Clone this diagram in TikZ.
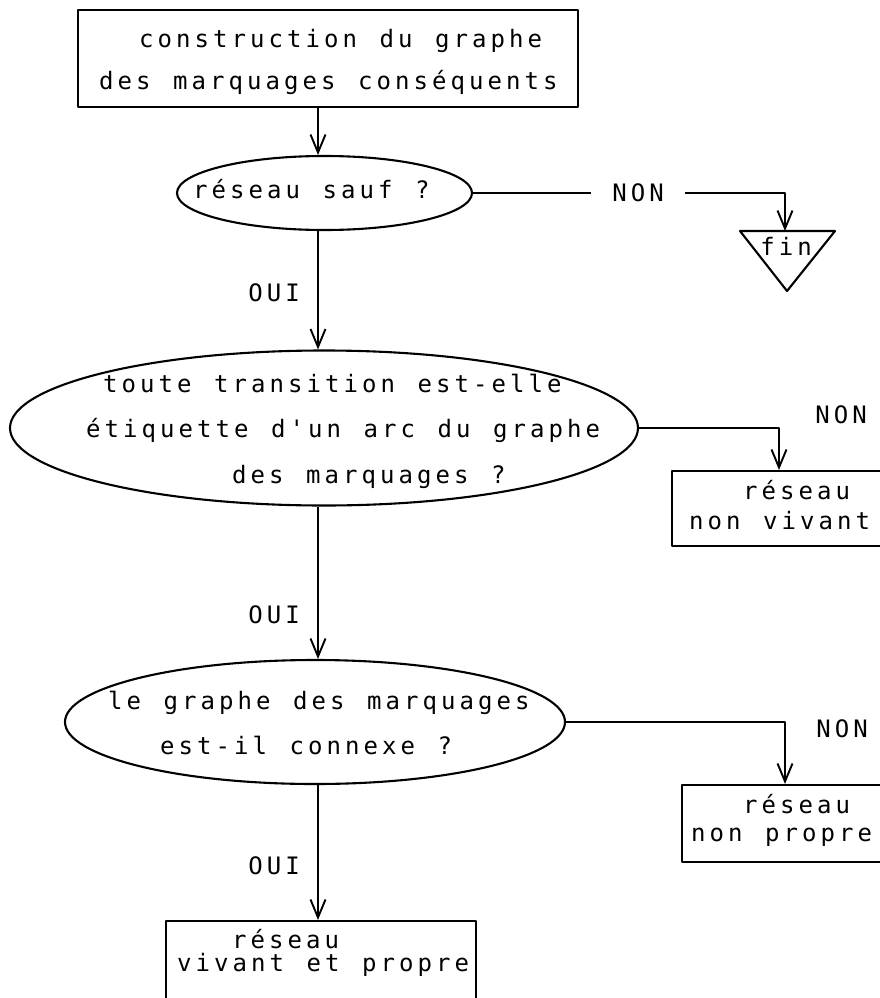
\documentclass[tikz,border=0pt]{standalone}
\usepackage{fontspec}
\newfontfamily\tw{DejaVu Sans Mono}
\usetikzlibrary{arrows.meta,shapes.geometric}
\newlength\monopitch
\setlength\monopitch{18.5pt}
\ExplSyntaxOn
\NewDocumentCommand\mono{m}{\str_map_inline:nn{#1}{\makebox[\monopitch][c]{##1}}}
\ExplSyntaxOff
\begin{document}
\begin{tikzpicture}[x=1pt,y=-1pt,line width=2.1pt,line join=round,
  box/.style={draw,rectangle,inner sep=0pt},
  ell/.style={draw,ellipse,inner sep=0pt},
  txt/.style={anchor=base west,inner sep=0pt,font=\tw\fontsize{24}{24}\selectfont},
  lbl/.style={inner sep=0pt,font=\tw\fontsize{24}{24}\selectfont},
  arr/.style={-{Straight Barb[length=18pt,width=15pt,line width=1.9pt]}}]
\useasboundingbox (0,0) rectangle (879,998);
\coordinate (spine) at (318,0);
% shapes
\node[box,minimum width=500pt,minimum height=97pt] (b1) at (328,58.5) {};
\node[ell,minimum width=295pt,minimum height=74pt] (e1) at (324.5,193) {};
\node[ell,minimum width=628pt,minimum height=155pt] (e2) at (324,428) {};
\node[box,minimum width=214pt,minimum height=75pt] (nv) at (779,508.5) {};
\node[ell,minimum width=500pt,minimum height=124pt] (e3) at (315,722) {};
\node[box,minimum width=206pt,minimum height=77pt] (np) at (785,823.5) {};
\node[box,minimum width=310pt,minimum height=91pt] (bb) at (321,966.5) {};
\coordinate (fintop) at (785,231);
\draw (740,231) -- (835,231) -- (787,291) -- cycle;
% texts
\node[txt] (t1) at (136,48) {\mono{construction du graphe}};
\node[txt] (t2) at (96,89) {\mono{des marquages conséquents}};
\node[txt] (t3) at (190,198) {\mono{réseau sauf ?}};
\node[lbl,anchor=base] (fin) at (786,255) {\mono{fin}};
\node[txt] (t4) at (100,392) {\mono{toute transition est-elle}};
\node[txt] (t5) at (83,437) {\mono{étiquette d'un arc du graphe}};
\node[txt] (t6) at (229,483) {\mono{des marquages ?}};
\node[txt] (t7) at (740,499) {\mono{réseau}};
\node[txt] (t8) at (686,529) {\mono{non vivant}};
\node[txt] (t9) at (105,709) {\mono{le graphe des marquages}};
\node[txt] (t10) at (157,754) {\mono{est-il connexe ?}};
\node[txt] (t11) at (740,813) {\mono{réseau}};
\node[txt] (t12) at (688,841) {\mono{non propre}};
\node[txt] (t13) at (229,948) {\mono{réseau}};
\node[txt] (t14) at (174,971) {\mono{vivant et propre}};
% labels
\node[lbl,inner xsep=18pt] (non1) at (638,193) {\mono{NON}};
\node[lbl] (non2) at (841,415) {\mono{NON}};
\node[lbl] (non3) at (842,729) {\mono{NON}};
\node[lbl] (oui1) at (274,293) {\mono{OUI}};
\node[lbl] (oui2) at (274,615) {\mono{OUI}};
\node[lbl] (oui3) at (274,866) {\mono{OUI}};
% connectors
\draw[arr] (b1.south -| spine) -- (e1.north -| spine);
\draw (e1.east) -- (non1.west);
\draw[arr] (non1.east) -| (fintop);
\draw[arr] (e1.south -| spine) -- (e2.north -| spine);
\draw[arr] (e2.east) -| (nv.north);
\draw[arr] (e2.south -| spine) -- (e3.north -| spine);
\draw[arr] (e3.east) -| (np.north);
\draw[arr] (e3.south -| spine) -- (bb.north -| spine);
\end{tikzpicture}
\end{document}
